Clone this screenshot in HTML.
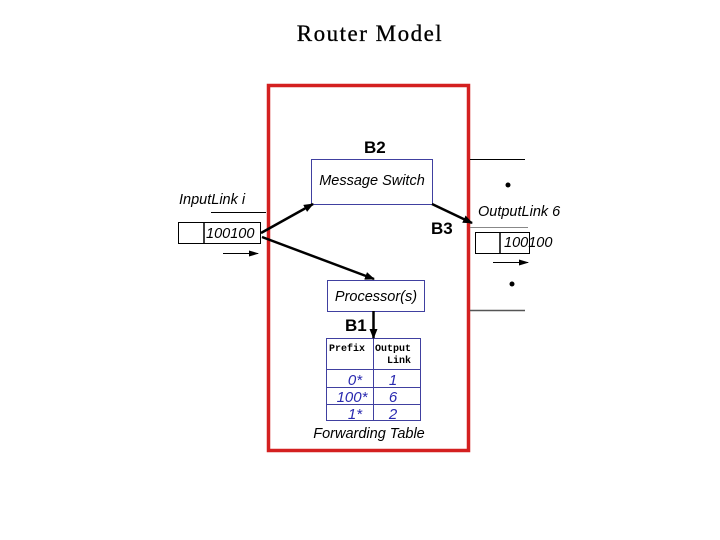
<!DOCTYPE html>
<html><head><meta charset="utf-8"><style>
html,body{margin:0;padding:0;background:#fff;}
svg{display:block;}
.s{font-family:"Liberation Sans",sans-serif;font-style:italic;}
.b{font-family:"Liberation Sans",sans-serif;font-weight:bold;font-size:17px;}
.m{font-family:"Liberation Mono",monospace;font-weight:bold;font-size:10px;}
</style></head><body>
<svg width="720" height="540" viewBox="0 0 720 540" xmlns="http://www.w3.org/2000/svg">
<defs>
<marker id="a" markerWidth="10" markerHeight="8" refX="9" refY="4" orient="auto" markerUnits="userSpaceOnUse">
<path d="M0,0 L10,4 L0,8 Z" fill="#000"/></marker>
<marker id="sa" markerWidth="10" markerHeight="6" refX="9" refY="3" orient="auto" markerUnits="userSpaceOnUse">
<path d="M0,0 L10,3 L0,6 Z" fill="#000"/></marker>
</defs>
<text x="370" y="41" text-anchor="middle" font-family="Liberation Serif,serif" font-size="23" letter-spacing="1.5" stroke="#000" stroke-width="0.3">Router Model</text>
<rect x="268.5" y="85.5" width="200" height="365" fill="none" stroke="#d42020" stroke-width="3.5"/>
<rect x="311.5" y="159.5" width="121" height="45" fill="none" stroke="#4040a0" stroke-width="1"/>
<text class="s" x="372" y="185" text-anchor="middle" font-size="14.5">Message Switch</text>
<text class="b" x="364" y="153">B2</text>
<rect x="327.5" y="280.5" width="97" height="31" fill="none" stroke="#4040a0" stroke-width="1"/>
<text class="s" x="376" y="301" text-anchor="middle" font-size="14.5">Processor(s)</text>
<text class="b" x="345" y="331">B1</text>
<text class="b" x="431" y="234">B3</text>
<g stroke="#4040a0" stroke-width="1" fill="none">
<rect x="326.5" y="338.5" width="94" height="82"/>
<line x1="373.5" y1="338" x2="373.5" y2="421"/>
<line x1="326" y1="369.5" x2="421" y2="369.5"/>
<line x1="326" y1="387.5" x2="421" y2="387.5"/>
<line x1="326" y1="404.5" x2="421" y2="404.5"/>
</g>
<text class="m" x="329" y="351">Prefix</text>
<text class="m" x="375" y="351">Output</text>
<text class="m" x="387" y="363">Link</text>
<g class="s" font-size="15" fill="#2a2ab0" text-anchor="middle">
<text x="355" y="385">0*</text><text x="393" y="385">1</text>
<text x="352" y="402">100*</text><text x="393" y="402">6</text>
<text x="355" y="419">1*</text><text x="393" y="419">2</text>
</g>
<text class="s" x="369" y="438" text-anchor="middle" font-size="14.5">Forwarding Table</text>
<text class="s" x="179" y="204" font-size="14.5">InputLink i</text>
<line x1="211" y1="212.5" x2="266" y2="212.5" stroke="#000" stroke-width="1"/>
<rect x="178.5" y="222.5" width="82" height="21" fill="none" stroke="#000" stroke-width="1"/>
<line x1="204" y1="222" x2="204" y2="244" stroke="#000" stroke-width="1.5"/>
<text class="s" x="206" y="238" font-size="14.5">100100</text>
<line x1="223" y1="253.5" x2="258" y2="253.5" stroke="#000" stroke-width="1" marker-end="url(#sa)"/>
<line x1="470" y1="159.5" x2="525" y2="159.5" stroke="#000" stroke-width="1"/>
<circle cx="508" cy="185" r="2.5" fill="#000"/>
<text class="s" x="478" y="216" font-size="14.5">OutputLink 6</text>
<line x1="470" y1="227.5" x2="528" y2="227.5" stroke="#888" stroke-width="1"/>
<rect x="475.5" y="232.5" width="54" height="21" fill="none" stroke="#000" stroke-width="1"/>
<line x1="500" y1="232" x2="500" y2="254" stroke="#000" stroke-width="1.5"/>
<text class="s" x="504" y="247" font-size="14.5">100100</text>
<line x1="493" y1="262.5" x2="528" y2="262.5" stroke="#000" stroke-width="1" marker-end="url(#sa)"/>
<circle cx="512" cy="284" r="2.5" fill="#000"/>
<line x1="470" y1="310.5" x2="525" y2="310.5" stroke="#555" stroke-width="1.5"/>
<g stroke="#000" stroke-width="2.5" fill="none">
<line x1="261" y1="233" x2="313" y2="204" marker-end="url(#a)"/>
<line x1="262" y1="237" x2="374" y2="279" marker-end="url(#a)"/>
<line x1="432" y1="204" x2="472" y2="223" marker-end="url(#a)"/>
<line x1="373.5" y1="311" x2="373.5" y2="338" marker-end="url(#a)"/>
</g>
</svg>
</body></html>
